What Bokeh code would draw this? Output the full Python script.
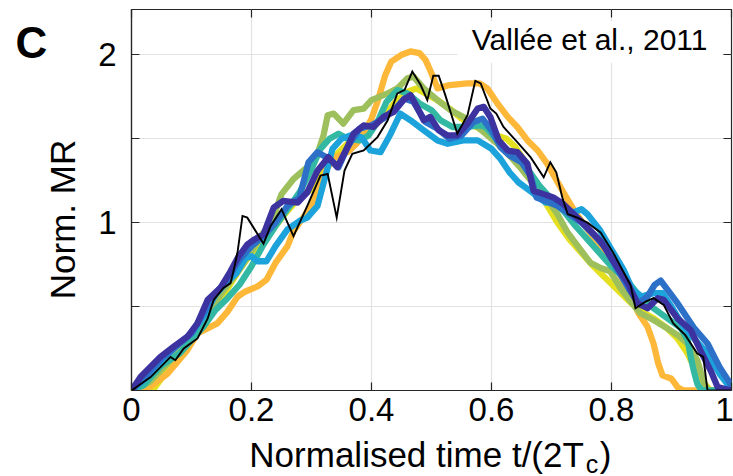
import math
from bokeh.plotting import figure
from bokeh.layouts import row, column
from bokeh.models import (Range1d, FixedTicker, CustomJSTickFormatter, LinearAxis,
                          Label, BoxAnnotation)
from bokeh.embed import file_html
from bokeh.resources import INLINE

# ---------------- data (normalised time, normalised moment rate) ----------------
X_TICKS = [0, 0.2, 0.4, 0.6, 0.8, 1.0]
Y_TICKS = [0.5, 1.0, 1.5, 2.0]

YELLOW_PTS = [(0, 0), (0.035, 0.0), (0.06, 0.12), (0.09, 0.26), (0.12, 0.4), (0.15, 0.55),
              (0.18, 0.72), (0.2, 0.82), (0.22, 0.9), (0.24, 0.98), (0.26, 1.07), (0.28, 1.15),
              (0.3, 1.2), (0.32, 1.3), (0.34, 1.4), (0.36, 1.47), (0.38, 1.54), (0.4, 1.56),
              (0.42, 1.63), (0.44, 1.72), (0.46, 1.78), (0.475, 1.8), (0.49, 1.77), (0.51, 1.73),
              (0.53, 1.68), (0.55, 1.62), (0.565, 1.59), (0.58, 1.56), (0.6, 1.53), (0.625, 1.5),
              (0.64, 1.45), (0.653, 1.38), (0.67, 1.25), (0.69, 1.12), (0.71, 1.0), (0.73, 0.9),
              (0.75, 0.82), (0.77, 0.74), (0.79, 0.67), (0.81, 0.6), (0.83, 0.53), (0.85, 0.47),
              (0.87, 0.43), (0.893, 0.37), (0.91, 0.31), (0.927, 0.22), (0.94, 0.12),
              (0.955, 0.04), (0.965, 0.0), (1.0, 0.0)]

ORANGE_PTS = [(0.0, 0.0), (0.03, 0.02), (0.06, 0.1), (0.093, 0.24), (0.11, 0.34), (0.143, 0.4),
              (0.16, 0.47), (0.177, 0.56), (0.19, 0.59), (0.21, 0.62), (0.225, 0.66), (0.24, 0.76),
              (0.26, 0.86), (0.27, 0.95), (0.29, 1.05), (0.3, 1.11), (0.315, 1.22), (0.325, 1.32),
              (0.34, 1.39), (0.36, 1.42), (0.375, 1.47), (0.39, 1.55), (0.4, 1.62), (0.41, 1.72),
              (0.423, 1.88), (0.433, 1.96), (0.45, 2.0), (0.465, 2.02), (0.48, 2.01), (0.49, 1.97),
              (0.5, 1.89), (0.51, 1.8), (0.53, 1.82), (0.56, 1.83), (0.58, 1.83), (0.593, 1.8),
              (0.61, 1.71), (0.627, 1.63), (0.643, 1.57), (0.66, 1.49), (0.677, 1.43), (0.693, 1.35),
              (0.72, 1.18), (0.74, 1.06), (0.76, 0.96), (0.78, 0.86), (0.8, 0.79), (0.81, 0.72),
              (0.827, 0.6), (0.845, 0.46), (0.86, 0.38), (0.87, 0.28), (0.878, 0.16), (0.885, 0.09),
              (0.9, 0.07), (0.91, 0.02), (0.92, 0.0), (1.0, 0.0)]

GREEN_PTS = [(0, 0), (0.03, 0.05), (0.06, 0.16), (0.09, 0.28), (0.12, 0.42), (0.15, 0.58),
             (0.18, 0.72), (0.2, 0.83), (0.215, 0.92), (0.232, 0.99), (0.25, 1.17), (0.27, 1.26),
             (0.293, 1.33), (0.31, 1.41), (0.32, 1.52), (0.327, 1.64), (0.337, 1.65), (0.353, 1.59),
             (0.37, 1.67), (0.387, 1.68), (0.4, 1.73), (0.427, 1.77), (0.443, 1.8), (0.46, 1.86),
             (0.47, 1.87), (0.487, 1.8), (0.51, 1.73), (0.532, 1.67), (0.553, 1.63), (0.577, 1.57),
             (0.59, 1.53), (0.61, 1.47), (0.63, 1.4), (0.65, 1.32), (0.67, 1.23), (0.693, 1.14),
             (0.71, 1.05), (0.727, 0.94), (0.748, 0.84), (0.765, 0.76), (0.782, 0.73), (0.798, 0.71),
             (0.815, 0.61), (0.832, 0.53), (0.848, 0.46), (0.87, 0.42), (0.893, 0.37), (0.91, 0.33),
             (0.927, 0.28), (0.943, 0.18), (0.953, 0.06), (0.96, 0.0), (1.0, 0.0)]

TEAL_PTS = [(0, 0), (0.02, 0.03), (0.05, 0.15), (0.08, 0.22), (0.1, 0.3), (0.12, 0.38), (0.14, 0.48),
            (0.16, 0.55), (0.18, 0.63), (0.2, 0.74), (0.22, 0.87), (0.24, 0.98), (0.26, 1.08),
            (0.28, 1.18), (0.3, 1.32), (0.315, 1.44), (0.33, 1.5), (0.345, 1.53), (0.36, 1.5),
            (0.38, 1.49), (0.395, 1.52), (0.41, 1.6), (0.425, 1.72), (0.443, 1.79), (0.46, 1.77),
            (0.48, 1.71), (0.5, 1.67), (0.515, 1.61), (0.535, 1.57), (0.56, 1.57), (0.58, 1.58),
            (0.59, 1.57), (0.605, 1.51), (0.62, 1.45), (0.64, 1.4), (0.66, 1.32), (0.68, 1.22),
            (0.7, 1.14), (0.72, 1.07), (0.74, 0.98), (0.76, 0.9), (0.78, 0.82), (0.8, 0.74),
            (0.827, 0.65), (0.843, 0.58), (0.853, 0.55), (0.87, 0.49), (0.893, 0.43), (0.915, 0.375),
            (0.927, 0.3), (0.932, 0.2), (0.937, 0.12), (0.943, 0.04), (0.95, 0.0), (1.0, 0.0)]

LIGHTBLUE_PTS = [(0, 0), (0.02, 0.06), (0.05, 0.18), (0.08, 0.28), (0.1, 0.34), (0.12, 0.44),
                 (0.14, 0.57), (0.155, 0.63), (0.175, 0.7), (0.19, 0.79), (0.2, 0.8), (0.21, 0.77),
                 (0.225, 0.77), (0.24, 0.86), (0.26, 0.96), (0.28, 1.01), (0.293, 1.03), (0.31, 1.1),
                 (0.325, 1.3), (0.335, 1.44), (0.35, 1.5), (0.365, 1.52), (0.383, 1.51), (0.398, 1.43),
                 (0.415, 1.42), (0.432, 1.53), (0.448, 1.65), (0.465, 1.61), (0.487, 1.55),
                 (0.51, 1.49), (0.527, 1.47), (0.553, 1.49), (0.577, 1.49), (0.6, 1.44), (0.615, 1.38),
                 (0.63, 1.3), (0.645, 1.24), (0.66, 1.2), (0.675, 1.16), (0.69, 1.12), (0.7, 1.12),
                 (0.72, 1.1), (0.735, 1.06), (0.75, 1.08), (0.76, 1.05), (0.78, 0.96), (0.8, 0.84),
                 (0.82, 0.72), (0.835, 0.6), (0.85, 0.56), (0.87, 0.58), (0.885, 0.58), (0.9, 0.5),
                 (0.92, 0.38), (0.94, 0.3), (0.96, 0.22), (0.98, 0.1), (0.995, 0.03), (1.0, 0.0)]

BLUE_PTS = [(0, 0), (0.02, 0.07), (0.05, 0.19), (0.08, 0.28), (0.1, 0.34), (0.12, 0.46), (0.14, 0.58),
            (0.16, 0.66), (0.18, 0.78), (0.2, 0.86), (0.22, 0.92), (0.24, 1.0), (0.26, 1.1),
            (0.28, 1.15), (0.295, 1.36), (0.31, 1.42), (0.33, 1.38), (0.345, 1.33), (0.36, 1.45),
            (0.38, 1.56), (0.4, 1.58), (0.42, 1.62), (0.44, 1.68), (0.455, 1.74), (0.47, 1.72),
            (0.49, 1.6), (0.51, 1.56), (0.53, 1.5), (0.55, 1.52), (0.57, 1.6), (0.585, 1.62),
            (0.6, 1.55), (0.615, 1.45), (0.63, 1.4), (0.65, 1.36), (0.665, 1.28), (0.675, 1.15),
            (0.69, 1.13), (0.71, 1.1), (0.73, 1.05), (0.75, 1.0), (0.77, 0.93), (0.79, 0.85),
            (0.81, 0.72), (0.83, 0.6), (0.845, 0.52), (0.86, 0.56), (0.872, 0.63), (0.882, 0.655),
            (0.91, 0.52), (0.937, 0.375), (0.96, 0.28), (0.98, 0.14), (0.998, 0.04), (1.0, 0.0)]

INDIGO_T = [0, 0.015, 0.048, 0.07, 0.093, 0.11, 0.127, 0.148, 0.165, 0.177, 0.193, 0.205, 0.22,
            0.237, 0.253, 0.277, 0.293, 0.31, 0.328, 0.343, 0.36, 0.37, 0.387, 0.403, 0.42, 0.437,
            0.453, 0.465, 0.477, 0.487, 0.498, 0.512, 0.527, 0.543, 0.56, 0.577, 0.587, 0.598,
            0.612, 0.627, 0.643, 0.66, 0.67, 0.687, 0.703, 0.72, 0.743, 0.76, 0.782, 0.803, 0.827,
            0.843, 0.86, 0.877, 0.887, 0.91, 0.932, 0.948, 0.965, 0.977, 1.0]
INDIGO_V = [0, 0.08, 0.2, 0.26, 0.32, 0.4, 0.54, 0.61, 0.71, 0.79, 0.87, 0.9, 0.93, 1.09, 1.13,
            1.12, 1.18, 1.31, 1.39, 1.33, 1.45, 1.53, 1.58, 1.57, 1.63, 1.66, 1.73, 1.76, 1.68,
            1.61, 1.63, 1.55, 1.52, 1.52, 1.59, 1.68, 1.69, 1.63, 1.49, 1.43, 1.42, 1.35, 1.19,
            1.17, 1.15, 1.11, 1.03, 0.97, 0.89, 0.77, 0.64, 0.52, 0.49, 0.55, 0.54, 0.43, 0.36,
            0.24, 0.12, 0.02, 0.0]

BLACK_PTS = [(0, 0), (0.032, 0.08), (0.065, 0.2), (0.073, 0.18), (0.087, 0.25), (0.11, 0.31),
             (0.127, 0.43), (0.137, 0.54), (0.153, 0.61), (0.165, 0.64), (0.17, 0.71), (0.177, 0.83),
             (0.185, 1.04), (0.193, 1.03), (0.22, 0.875), (0.232, 0.98), (0.25, 1.08), (0.27, 0.92),
             (0.293, 1.1), (0.315, 1.28), (0.327, 1.29), (0.342, 1.03), (0.355, 1.31), (0.368, 1.41),
             (0.387, 1.43), (0.41, 1.51), (0.427, 1.61), (0.443, 1.77), (0.455, 1.79), (0.468, 1.9),
             (0.482, 1.82), (0.493, 1.73), (0.503, 1.875), (0.512, 1.875), (0.523, 1.76),
             (0.543, 1.53), (0.56, 1.64), (0.573, 1.845), (0.582, 1.83), (0.598, 1.68), (0.608, 1.65),
             (0.62, 1.57), (0.643, 1.48), (0.665, 1.39), (0.687, 1.27), (0.698, 1.36), (0.708, 1.3),
             (0.718, 1.15), (0.727, 1.05), (0.743, 1.03), (0.76, 1.0), (0.782, 0.94), (0.803, 0.82),
             (0.832, 0.625), (0.84, 0.49), (0.857, 0.53), (0.87, 0.55), (0.887, 0.51), (0.903, 0.4),
             (0.923, 0.33), (0.943, 0.22), (0.953, 0.2), (0.96, 0.0), (1.0, 0.0)]

SERIES = [
    (YELLOW_PTS, "#e4e01f"),
    (ORANGE_PTS, "#fdb83a"),
    (GREEN_PTS, "#9dc05c"),
    (TEAL_PTS, "#33b8a4"),
    (LIGHTBLUE_PTS, "#1ca3dc"),
    (BLUE_PTS, "#2d70c8"),
    (list(zip(INDIGO_T, INDIGO_V)), "#3c32a0"),
]

FONT = "Liberation Sans"
AX = "#262626"

# layout sizes (pixels)
LEFT_W = 95          # strip holding the panel letter and the y label
MAIN_W = 733 - LEFT_W
MAIN_H = 436
BOTTOM_H = 476 - MAIN_H


def blank(width, height, x0, x1, y0, y1):
    f = figure(width=width, height=height, x_range=Range1d(x0, x1), y_range=Range1d(y0, y1),
               output_backend="svg", toolbar_location=None,
               x_axis_location=None, y_axis_location=None,
               min_border=0, min_border_left=0, min_border_right=0,
               min_border_top=0, min_border_bottom=0,
               background_fill_color="white", border_fill_color="white")
    f.outline_line_color = None
    f.xgrid.visible = False
    f.ygrid.visible = False
    return f


# ---------------- main axes ----------------
p = figure(width=MAIN_W, height=MAIN_H, x_range=Range1d(0, 1), y_range=Range1d(0, 2.27),
           output_backend="svg", toolbar_location=None,
           min_border_left=131 - LEFT_W, min_border_right=2, min_border_top=9,
           min_border_bottom=MAIN_H - 390,
           background_fill_color="white", border_fill_color="white")
p.outline_line_color = AX
p.outline_line_width = 1.2

p.xaxis.ticker = FixedTicker(ticks=X_TICKS)
p.yaxis.ticker = FixedTicker(ticks=Y_TICKS)
p.xaxis.formatter = CustomJSTickFormatter(
    code="if (Math.abs(tick) < 1e-9) return '0'; if (Math.abs(tick-1) < 1e-9) return '1'; return tick.toFixed(1);")
p.yaxis.formatter = CustomJSTickFormatter(
    code="return (Math.abs(tick - Math.round(tick)) < 1e-9) ? Math.round(tick).toString() : '';")

for ax in (p.xaxis, p.yaxis):
    ax.major_tick_in = 8
    ax.major_tick_out = 0
    ax.minor_tick_in = 0
    ax.minor_tick_out = 0
    ax.axis_line_color = AX
    ax.axis_line_width = 1.2
    ax.major_tick_line_color = AX
    ax.major_tick_line_width = 1.2
    ax.major_label_text_font = FONT
    ax.major_label_text_font_size = "33px"
    ax.major_label_text_color = "black"
p.xaxis.major_label_standoff = 7
p.yaxis.major_label_standoff = 15

# mirror ticks on top and right (box on)
right_ax = LinearAxis(ticker=FixedTicker(ticks=Y_TICKS), major_label_text_font_size="0px",
                      major_tick_in=8, major_tick_out=0, minor_tick_in=0, minor_tick_out=0,
                      axis_line_color=None, major_tick_line_color=AX, major_tick_line_width=1.2,
                      major_label_standoff=0,
                      formatter=CustomJSTickFormatter(code="return '';"))
top_ax = LinearAxis(ticker=FixedTicker(ticks=X_TICKS), major_label_text_font_size="0px",
                    major_tick_in=8, major_tick_out=0, minor_tick_in=0, minor_tick_out=0,
                    axis_line_color=None, major_tick_line_color=AX, major_tick_line_width=1.2,
                    major_label_standoff=0,
                    formatter=CustomJSTickFormatter(code="return '';"))
p.add_layout(right_ax, "right")
p.add_layout(top_ax, "above")

p.xgrid.grid_line_color = "#e2e2e2"
p.ygrid.grid_line_color = "#e2e2e2"
p.xgrid.grid_line_width = 1.2
p.ygrid.grid_line_width = 1.2

for pts, col in SERIES:
    ts = [a for a, b in pts]
    vs = [b for a, b in pts]
    p.line(ts, vs, line_color=col, line_width=6.3, line_join="round", line_cap="round")

bt = [a for a, b in BLACK_PTS]
bv = [b for a, b in BLACK_PTS]
p.line(bt, bv, line_color="black", line_width=1.9, line_join="miter")

# white box behind the citation text
p.add_layout(BoxAnnotation(left=0.543, right=0.985, bottom=1.952, top=2.2,
                           fill_color="white", fill_alpha=1.0, line_color=None))
p.add_layout(Label(x=0.96, y=2.09, text="Vallée et al., 2011", text_align="right",
                   text_baseline="alphabetic", text_font=FONT, text_font_size="30px",
                   text_color="black"))

# ---------------- left strip: panel letter + y label (pixel coordinates, y down) ----------------
q_left = blank(LEFT_W, 476, 0, LEFT_W, 476, 0)
q_left.add_layout(Label(x=15, y=42, text="C", text_align="left", text_baseline="alphabetic",
                        text_font=FONT, text_font_size="44px", text_font_style="bold",
                        text_color="black"))
q_left.add_layout(Label(x=62, y=219, text="Norm. MR", angle=math.pi / 2, text_align="center",
                        text_baseline="alphabetic", text_font=FONT, text_font_size="35px",
                        text_color="black"))

# ---------------- bottom strip: x label with subscript ----------------
q_bot = blank(MAIN_W, BOTTOM_H, LEFT_W, 733, 476, MAIN_H)
q_bot.add_layout(Label(x=576, y=454, text="Normalised time t/(2T", text_align="right",
                       text_baseline="alphabetic", text_font=FONT, text_font_size="35px",
                       text_color="black"))
q_bot.add_layout(Label(x=578, y=463, text="c", text_align="left", text_baseline="alphabetic",
                       text_font=FONT, text_font_size="25px", text_color="black"))
q_bot.add_layout(Label(x=593, y=454, text=")", text_align="left", text_baseline="alphabetic",
                       text_font=FONT, text_font_size="35px", text_color="black"))

layout = row(q_left, column(p, q_bot, spacing=0), spacing=0)
open("out.html", "w").write(file_html(layout, INLINE))
